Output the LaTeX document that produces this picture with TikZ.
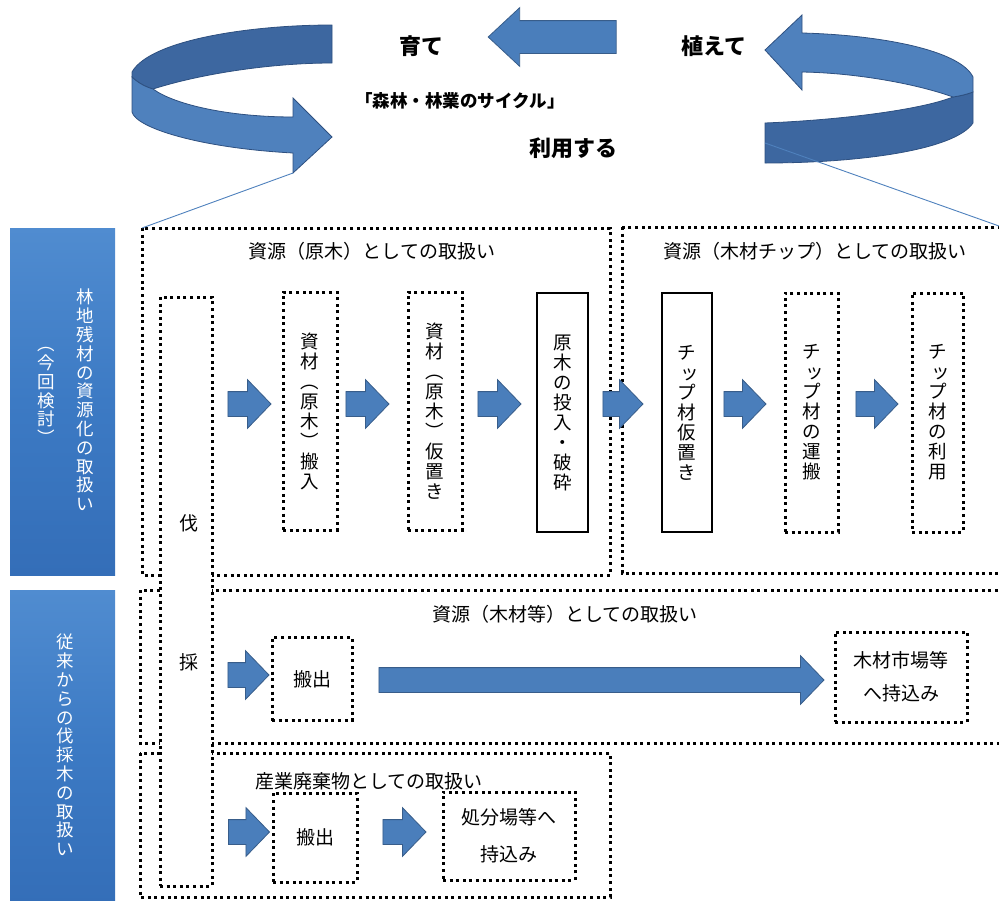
\documentclass[tikz,border=0pt]{standalone}
\usepackage{fontspec}
\usetikzlibrary{shapes.arrows}
\newfontfamily\jp{Noto Sans CJK JP}

\definecolor{ribfront}{RGB}{79,129,189}
\definecolor{ribback}{RGB}{61,103,160}
\definecolor{ribedge}{RGB}{46,80,128}
\definecolor{arrfill}{RGB}{74,126,187}
\definecolor{arredge}{RGB}{56,93,138}
\definecolor{barhi}{RGB}{80,140,208}
\definecolor{barmid}{RGB}{60,122,196}
\definecolor{barlo}{RGB}{52,110,184}
\definecolor{linkblue}{RGB}{79,129,189}

% small kana set for vertical stacking
\newcommand\vsm[1]{\makebox[1em][l]{\hskip0.15em #1}}

\tikzset{
  dotbox/.style={draw, line width=3pt, dash pattern=on 3pt off 3.6pt},
  plainbox/.style={draw, line width=1.1pt},
  vtext/.style={font=\jp\fontsize{18.5}{20}\selectfont, align=center, inner sep=0pt},
  htext/.style={font=\jp\fontsize{19}{33}\selectfont, align=center, inner sep=0pt},
  bartext/.style={font=\jp\fontsize{17.5}{18.8}\selectfont, text=white, align=center, inner sep=0pt},
  toptext/.style={font=\jp\bfseries\fontsize{22}{26}\selectfont, inner sep=0pt},
  fatarrow/.style={single arrow, draw=arredge, fill=arrfill, line width=0.8pt,
    single arrow head extend=12pt, single arrow tip angle=92,
    inner xsep=0pt, inner ysep=12pt, text height=0pt, text depth=0pt, minimum height=43pt},
  sidebar/.style={top color=barhi, bottom color=barlo, middle color=barmid, draw=none, inner sep=0pt},
  link/.style={draw=linkblue, line width=0.9pt},
}

\begin{document}
\begin{tikzpicture}[x=1pt, y=-1pt]
\useasboundingbox (0,0) rectangle (999,900);

% forest cycle
\filldraw[fill=ribback, draw=ribedge, line width=0.8pt] (332,25) .. controls (250,25) and (150,40) .. (132,72)
  -- (132,77) .. controls (138,83) and (146,87) .. (153,89) .. controls (200,74) and (270,63) .. (332,63) -- cycle;
\filldraw[fill=ribfront, draw=ribedge, line width=0.8pt] (132,77) -- (132,112) .. controls (136,128) and (200,148) .. (293,153)
  -- (293,173) -- (332,137) -- (293,98) -- (293,117) .. controls (230,117) and (175,105) .. (153,89)
  .. controls (146,87) and (138,83) .. (132,77) -- cycle;
\filldraw[fill=ribback, draw=ribedge, line width=0.8pt] (953,97) .. controls (960,96) and (968,94) .. (973,92)
  -- (973,123) .. controls (955,150) and (860,163) .. (765,163) -- (765,123) .. controls (840,120) and (920,110) .. (953,97) -- cycle;
\filldraw[fill=ribfront, draw=ribedge, line width=0.8pt] (802,33) .. controls (880,35) and (960,50) .. (973,77)
  -- (973,92) .. controls (968,94) and (960,96) .. (953,97) .. controls (920,85) and (860,73) .. (802,72)
  -- (802,90) -- (765,50) -- (802,15) -- cycle;
\node[fatarrow, shape border rotate=180, minimum height=128pt, inner ysep=16pt,
  single arrow head extend=13pt, single arrow tip angle=86] (grow) at (561,37) {};
\node[toptext] (tgrow) at (421,46) {育て};
\node[toptext] (tplant) at (714,46) {植えて};
\node[toptext, font=\jp\bfseries\fontsize{17.5}{20}\selectfont] (tcycle) at (460,101) {「森林・林業のサイクル」};
\node[toptext] (tuse) at (573,148) {利用する};
\coordinate (lhook) at (293,173);
\coordinate (rhook) at (765,143);

% side bars
\node[sidebar, minimum width=105pt, minimum height=347pt] (bar1) at (62.5,401.5) {};
\node[sidebar, minimum width=105pt, minimum height=314pt] (bar2) at (62.5,747) {};
\node[bartext] (bar1main) at (85,400) {林\\地\\残\\材\\の\\資\\源\\化\\の\\取\\扱\\い};
\node[bartext] (bar1sub) at (46,396) {︵\\今\\回\\検\\討\\︶};
\node[bartext] (bar2main) at (65,745) {従\\来\\か\\ら\\の\\伐\\採\\木\\の\\取\\扱\\い};

% frames
\draw[dotbox] (142,228) coordinate (Atl) rectangle (610,575);
\draw[dotbox] (622,227) rectangle (1010,573);
\draw[dotbox] (140,590) rectangle (1010,743);
\draw[dotbox] (140,753) rectangle (610,897);
\coordinate (Btr) at (999,226);
\draw[link] (lhook) -- (Atl);
\draw[link] (rhook) -- (Btr);
\node[htext] (tA) at (372,251) {資源（原木）としての取扱い};
\node[htext] (tB) at (815,251) {資源（木材チップ）としての取扱い};
\node[htext] (tC) at (565,614) {資源（木材等）としての取扱い};
\node[htext, anchor=west] (tD) at (255,781) {産業廃棄物としての取扱い};

% felling
\node[dotbox, fill=white, minimum width=52pt, minimum height=589pt] (fell) at (186,591.5) {};
\node[htext] (fell1) at (189,523) {伐};
\node[htext] (fell2) at (189,662) {採};

% chip route
\node[dotbox, vtext, minimum width=54pt, minimum height=238pt] (carry) at (310,411) {資\\材\\︵\\原\\木\\︶\\搬\\入};
\node[dotbox, vtext, minimum width=54pt, minimum height=238pt] (store) at (435,411) {資\\材\\︵\\原\\木\\︶\\仮\\置\\き};
\node[plainbox, vtext, minimum width=51pt, minimum height=239pt] (crush) at (562.5,412.5) {原\\木\\の\\投\\入\\・\\破\\砕};
\node[plainbox, vtext, minimum width=50pt, minimum height=239pt] (pile) at (687,412.5) {チ\\\vsm{ッ}\\プ\\材\\仮\\置\\き};
\node[dotbox, vtext, minimum width=53pt, minimum height=239pt] (haul) at (811.5,412.5) {チ\\\vsm{ッ}\\プ\\材\\の\\運\\搬};
\node[dotbox, vtext, minimum width=51pt, minimum height=239pt] (chipuse) at (937.5,412.5) {チ\\\vsm{ッ}\\プ\\材\\の\\利\\用};
\node[fatarrow] (a1) at (243.5,404) {};
\node[fatarrow] (a2) at (361.5,404) {};
\node[fatarrow] (a3) at (493.5,404) {};
\node[fatarrow, minimum height=40pt] (a4) at (617,404) {};
\node[fatarrow, minimum height=42pt] (a5) at (739,404) {};
\node[fatarrow, minimum height=42pt] (a6) at (871,404) {};

% timber route
\node[fatarrow, minimum height=41pt] (a7) at (242.5,675) {};
\node[dotbox, htext, minimum width=80pt, minimum height=83pt] (out1) at (312,679) {搬出};
\node[fatarrow, minimum height=445pt] (ship) at (595.5,680) {};
\node[dotbox, htext, minimum width=132pt, minimum height=90pt] (market) at (901,677) {木材市場等\\へ持込み};

% waste route
\node[fatarrow, minimum height=41pt] (a9) at (243,832) {};
\node[dotbox, htext, minimum width=84pt, minimum height=89pt] (out2) at (315,837.5) {搬出};
\node[fatarrow] (a10) at (398.5,832) {};
\node[dotbox, htext, minimum width=132pt, minimum height=88pt] (dump) at (509,836) {処分場等へ\\[4pt]持込み};
\end{tikzpicture}
\end{document}
